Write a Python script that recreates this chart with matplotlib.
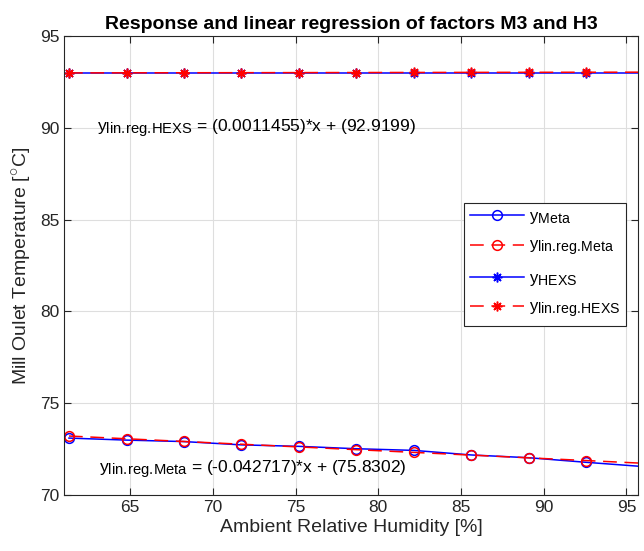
import matplotlib
matplotlib.use("Agg")
import matplotlib.pyplot as plt
import matplotlib._mathtext as _mt

_mt.SHRINK_FACTOR = 0.85

# ---- data ----
humidity = [61.30, 64.78, 68.25, 71.73, 75.20, 78.68, 82.15, 85.63, 89.10, 92.58, 95.70]
y_meta = [73.10, 72.99, 72.91, 72.73, 72.65, 72.52, 72.43, 72.18, 72.03, 71.78, 71.57]
y_reg_meta = [73.212, 73.063, 72.915, 72.766, 72.618, 72.469, 72.321, 72.172, 72.024, 71.876, 71.742]
y_hexs = [93.00, 93.00, 93.00, 93.00, 93.00, 93.00, 93.00, 93.00, 93.00, 93.00, 93.00]
y_reg_hexs = [92.990, 92.994, 92.998, 93.002, 93.006, 93.010, 93.014, 93.018, 93.022, 93.026, 93.030]
marker_idx = list(range(10))

sub_meta = r"\mathrm{lin}.\!\mathrm{reg}.\!\mathrm{Meta}"
sub_hexs = r"\mathrm{lin}.\!\mathrm{reg}.\!\mathrm{HEXS}"
eq_hexs = r"y$_{" + sub_hexs + r"}$ = (0.0011455)*x + (92.9199)"
eq_meta = r"y$_{" + sub_meta + r"}$ = (-0.042717)*x + (75.8302)"
labels = [r"y$_{\mathrm{Meta}}$", r"y$_{" + sub_meta + r"}$",
          r"y$_{\mathrm{HEXS}}$", r"y$_{" + sub_hexs + r"}$"]

plt.rcParams['font.family'] = ['Liberation Sans', 'DejaVu Sans']
plt.rcParams['mathtext.fontset'] = 'custom'
plt.rcParams['mathtext.rm'] = 'Liberation Sans'
plt.rcParams['mathtext.it'] = 'Liberation Sans:italic'
plt.rcParams['mathtext.bf'] = 'Liberation Sans:bold'

axc = '#262626'
fig = plt.figure(figsize=(6.44, 5.51), dpi=100)
ax = fig.add_axes([64/644, 1-495/551, 574/644, 459/551])

dash = (9, 5)
ax.plot(humidity, y_meta, color='b', lw=1.1, marker='o', markevery=marker_idx,
        ms=7, mfc='none', mew=1.1, label=labels[0])
ax.plot(humidity, y_reg_meta, color='r', lw=1.1, dashes=dash, marker='o', markevery=marker_idx,
        ms=7, mfc='none', mew=1.1, label=labels[1])
ax.plot(humidity, y_hexs, color='b', lw=1.1, marker=(8, 2, 0), markevery=marker_idx,
        ms=7, mew=1.1, label=labels[2])
ax.plot(humidity, y_reg_hexs, color='r', lw=1.1, dashes=dash, marker=(8, 2, 0), markevery=marker_idx,
        ms=7, mew=1.1, label=labels[3])

ax.set_xlim(61.0, 95.7)
ax.set_ylim(70, 95)
ax.set_xticks([65, 70, 75, 80, 85, 90, 95])
ax.set_yticks([70, 75, 80, 85, 90, 95])
ax.grid(True, color='#dedede', lw=0.8)
ax.set_axisbelow(True)
for s in ax.spines.values():
    s.set_color(axc)
    s.set_linewidth(0.8)
ax.tick_params(direction='in', top=True, right=True, length=5, width=0.8,
               colors=axc, labelsize=12.5, labelcolor=axc)

ax.set_xlabel("Ambient Relative Humidity [%]", fontsize=14, color=axc, labelpad=3)
ax.set_ylabel(r"Mill Oulet Temperature [$^{\circ}$C]", fontsize=14, color=axc, labelpad=4)
ax.set_title("Response and linear regression of factors M3 and H3", fontsize=14,
             fontweight='bold', color='black', pad=5)

ax.text(63.0, 89.95, eq_hexs, fontsize=12.5, va='center', ha='left', color='black')
ax.text(63.1, 71.35, eq_meta, fontsize=12.5, va='center', ha='left', color='black')

leg = ax.legend(loc='upper right', bbox_to_anchor=(0.979, 0.636), borderaxespad=0,
                fontsize=12, handlelength=3.2, labelspacing=0.75, handletextpad=0.3,
                borderpad=0.35, fancybox=False, framealpha=1, edgecolor=axc)
leg.get_frame().set_linewidth(0.8)

fig.savefig("out.png", dpi=100)
